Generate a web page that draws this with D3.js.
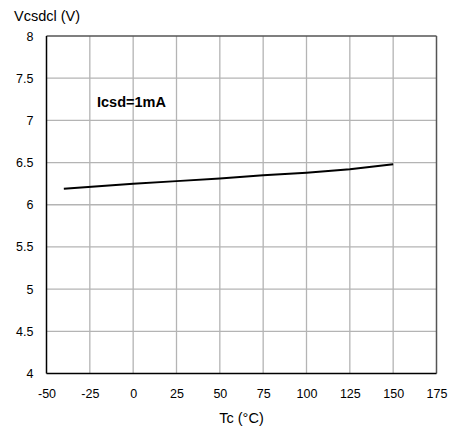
<!DOCTYPE html>
<html>
<head>
<meta charset="utf-8">
<script src="https://cdn.jsdelivr.net/npm/d3@7"></script>
<style>
  body { margin: 0; background: #fff; }
  text { font-family: "Liberation Sans", Arial, sans-serif; fill: #000; }
</style>
</head>
<body>
<div id="chart"></div>
<script>
var width = 453
var height = 434

// data
var tempC = [-40, 0, 25, 50, 75, 100, 125, 150]
var vcsdcl = [6.19, 6.25, 6.28, 6.31, 6.35, 6.38, 6.42, 6.48]
var xTicks = [-50, -25, 0, 25, 50, 75, 100, 125, 150, 175]
var yTicks = [4, 4.5, 5, 5.5, 6, 6.5, 7, 7.5, 8]
var yTickLabels = ['4', '4.5', '5', '5.5', '6', '6.5', '7', '7.5', '8']

// plot box (don't call it "top", that's window.top)
var plotL = 46.5, plotR = 436.5, plotT = 36, plotB = 373.5

var svg = d3.select('#chart')
  .append('svg')
  .attr('width', width)
  .attr('height', height)

var x = d3.scaleLinear().domain([-50, 175]).range([plotL, plotR])
var y = d3.scaleLinear().domain([4, 8]).range([plotB, plotT])

// grid
svg.append('g')
  .selectAll('line')
  .data(xTicks.slice(1, -1))
  .enter().append('line')
  .attr('x1', function(d) { return x(d) }).attr('x2', function(d) { return x(d) })
  .attr('y1', plotT).attr('y2', plotB)
  .attr('stroke', '#b4b4b4').attr('stroke-width', 1.3)

svg.append('g')
  .selectAll('line')
  .data(yTicks.slice(1, -1))
  .enter().append('line')
  .attr('y1', function(d) { return y(d) }).attr('y2', function(d) { return y(d) })
  .attr('x1', plotL).attr('x2', plotR)
  .attr('stroke', '#b4b4b4').attr('stroke-width', 1.3)

// frame: top/right grey, left/bottom black
svg.append('line').attr('x1', plotL).attr('x2', plotR).attr('y1', plotT).attr('y2', plotT)
  .attr('stroke', '#555').attr('stroke-width', 1.5)
svg.append('line').attr('x1', plotR).attr('x2', plotR).attr('y1', plotT).attr('y2', plotB)
  .attr('stroke', '#555').attr('stroke-width', 1.5)
svg.append('line').attr('x1', plotL).attr('x2', plotL).attr('y1', plotT).attr('y2', plotB)
  .attr('stroke', '#000').attr('stroke-width', 1.5)
svg.append('line').attr('x1', plotL).attr('x2', plotR).attr('y1', plotB).attr('y2', plotB)
  .attr('stroke', '#000').attr('stroke-width', 1.5)

// axes labels (no tick marks), plain hyphen for negatives
var xAxis = svg.append('g')
  .attr('transform', 'translate(0,' + plotB + ')')
  .call(d3.axisBottom(x).tickValues(xTicks).tickSize(0).tickPadding(16)
    .tickFormat(function(d) { return String(d) }))
xAxis.select('.domain').remove()
xAxis.selectAll('text').style('font-size', '12.5px').attr('font-family', null)

var yAxis = svg.append('g')
  .attr('transform', 'translate(' + plotL + ',0)')
  .call(d3.axisLeft(y).tickValues(yTicks).tickSize(0).tickPadding(13)
    .tickFormat(function(d, i) { return yTickLabels[i] }))
yAxis.select('.domain').remove()
yAxis.selectAll('text').style('font-size', '12.5px').attr('font-family', null)

// series
var line = d3.line()
  .x(function(d) { return x(d[0]) })
  .y(function(d) { return y(d[1]) })

svg.append('path')
  .datum(d3.zip(tempC, vcsdcl))
  .attr('d', line)
  .attr('fill', 'none')
  .attr('stroke', '#000')
  .attr('stroke-width', 2)

svg.append('text')
  .attr('x', 97).attr('y', 107)
  .style('font-size', '14.5px').style('font-weight', 'bold')
  .text('Icsd=1mA')

svg.append('text')
  .attr('x', 14).attr('y', 21)
  .style('font-size', '14.5px')
  .text('Vcsdcl (V)')

svg.append('text')
  .attr('x', (plotL + plotR) / 2).attr('y', 423)
  .attr('text-anchor', 'middle')
  .style('font-size', '14.5px')
  .text('Tc (°C)')
</script>
</body>
</html>
